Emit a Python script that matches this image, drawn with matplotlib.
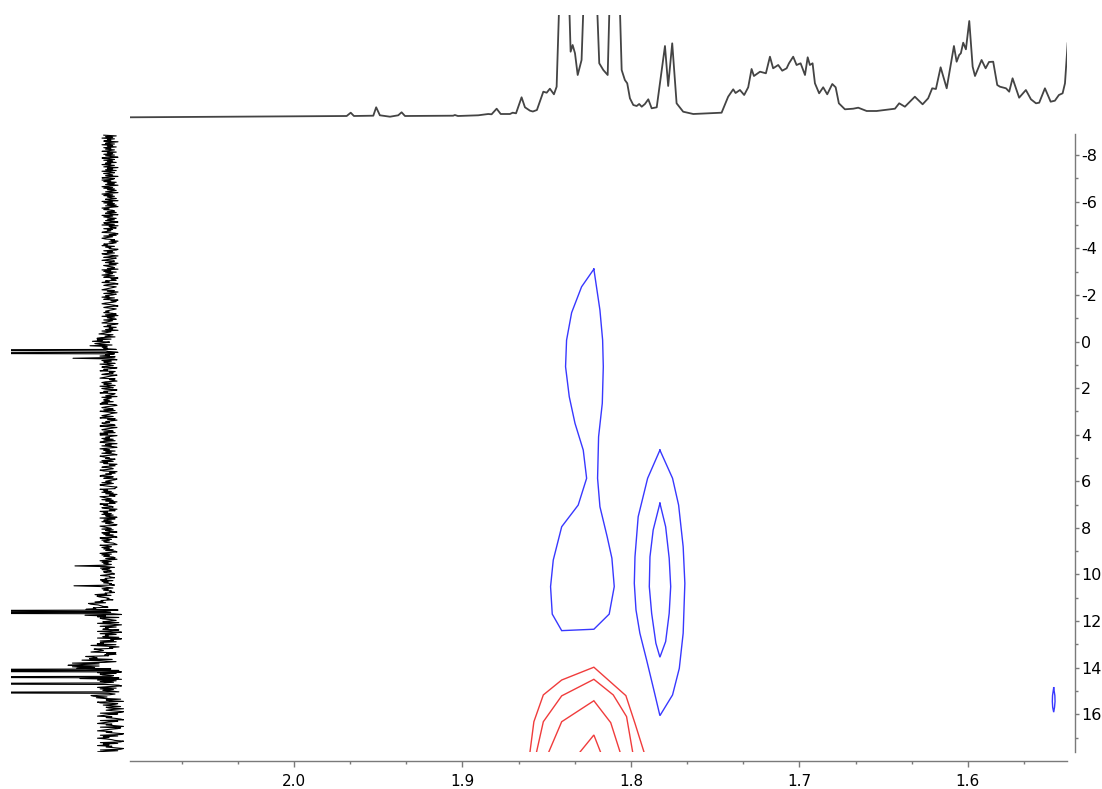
import numpy as np
import matplotlib
matplotlib.use("Agg")
import matplotlib.pyplot as plt
from matplotlib.ticker import MultipleLocator, FixedLocator

plt.rcParams['axes.unicode_minus'] = False
plt.rcParams['font.family'] = ['DejaVu Sans']

# ---------------------------------------------------------------- axes ranges
F2_LIMITS = (2.0973, 1.5412)      # 1H, ppm (reversed)
F1_LIMITS = (17.62, -8.91)        # 13C, ppm (reversed, downwards)
F2_MAJOR = [2.0, 1.9, 1.8, 1.7, 1.6]
F1_MAJOR = [-8, -6, -4, -2, 0, 2, 4, 6, 8, 10, 12, 14, 16]

# ---------------------------------------------------------------- 1H projection (top trace)
H_PPM = [2.0973, 1.9687, 1.9663, 1.9644, 1.9529, 1.9512, 1.9490, 1.9430, 1.9381,
         1.9361, 1.9341, 1.9055, 1.9045, 1.9027, 1.8906, 1.8847, 1.8827, 1.8797,
         1.8773, 1.8718, 1.8702, 1.8682, 1.8649, 1.8629, 1.8599, 1.8582, 1.8558,
         1.8520, 1.8500, 1.8481, 1.8457, 1.8441, 1.8395, 1.8358, 1.8346, 1.8332,
         1.8316, 1.8293, 1.8243, 1.8188, 1.8164, 1.8138, 1.8098, 1.8055, 1.8036,
         1.8022, 1.8006, 1.7986, 1.7966, 1.7951, 1.7936, 1.7917, 1.7897, 1.7877,
         1.7847, 1.7798, 1.7779, 1.7755, 1.7729, 1.7690, 1.7630, 1.7462, 1.7423,
         1.7393, 1.7379, 1.7353, 1.7328, 1.7304, 1.7284, 1.7270, 1.7234, 1.7199,
         1.7175, 1.7156, 1.7126, 1.7102, 1.7076, 1.7062, 1.7037, 1.7017, 1.6993,
         1.6967, 1.6951, 1.6938, 1.6922, 1.6908, 1.6883, 1.6859, 1.6835, 1.6805,
         1.6785, 1.6766, 1.6730, 1.6681, 1.6651, 1.6601, 1.6542, 1.6433, 1.6408,
         1.6374, 1.6315, 1.6269, 1.6236, 1.6212, 1.6190, 1.6162, 1.6126, 1.6083,
         1.6067, 1.6052, 1.6042, 1.6028, 1.6012, 1.5992, 1.5972, 1.5958, 1.5919,
         1.5895, 1.5875, 1.5850, 1.5826, 1.5810, 1.5774, 1.5755, 1.5735, 1.5696,
         1.5656, 1.5626, 1.5596, 1.5577, 1.5543, 1.5509, 1.5484, 1.5460, 1.5438,
         1.5424, 1.5408]
H_INT = [-0.3, 1.0, 4.3, 1.0, 1.3, 9.7, 1.7, 0.3, 1.7,
         4.7, 1.0, 1.3, 2.0, 1.0, 1.7, 3.0, 2.7, 8.3,
         3.0, 3.0, 4.3, 3.7, 19.7, 9.7, 6.3, 5.5, 7.0,
         25.3, 24.3, 28.3, 22.7, 30.3, 280.0, 65.3, 72.0, 63.7,
         42.0, 57.0, 300.0, 53.7, 47.0, 42.0, 300.0, 47.0, 37.0,
         33.7, 18.7, 12.0, 11.0, 13.0, 10.3, 13.0, 17.7, 8.7,
         9.7, 71.0, 31.0, 73.7, 13.7, 5.3, 3.0, 4.3, 20.3,
         27.7, 24.0, 27.0, 22.0, 29.7, 48.0, 41.0, 45.3, 43.7,
         60.3, 48.7, 52.0, 46.3, 48.7, 53.7, 60.3, 52.0, 53.7,
         42.0, 59.7, 52.0, 53.7, 33.7, 23.7, 29.7, 22.7, 33.0,
         29.7, 13.7, 7.7, 8.3, 9.3, 6.0, 6.0, 8.3, 13.7,
         10.3, 20.3, 12.7, 18.7, 28.7, 28.0, 49.7, 28.7, 71.0,
         55.3, 62.0, 63.7, 74.3, 67.7, 96.0, 50.3, 41.0, 57.0,
         48.7, 55.0, 55.3, 32.0, 30.3, 28.7, 25.3, 38.7, 19.3,
         27.0, 17.7, 13.7, 14.3, 28.7, 15.3, 16.3, 22.0, 23.7,
         33.7, 73.7]

# ---------------------------------------------------------------- 13C projection (left trace)
C_NOISE = ("817392648057293618472591638274095283617492580637194285370692"
           "394816270593826147059382641750938261704958326174093851627408"
           "729054183647920518369724051386927450183629740581369247051863"
           "260948173592680431759206841357926048137592680413795206841357"
           "583170926418357902648153709246813507926481375092468137509264"
           "914620837519426803759142680357914206837519428603759124608357"
           "472859103684271950346827915036487219503684271959036482717950"
           "638205947163820597461382957041683259704163892570146382597401"
           "195738260419753826041957328604195738264091573826401975382640"
           "847261095384762109538472610593847216059384726150938427610593"
           "306591847230695184723065918742306591874320659187423056918742"
           "571940382657149038265719043826571940328657914032865719403826"
           "928374615092873461509283746105928374165029837416509823741650"
           "463018257946310825794630812579463018275964301827594630182795")
C_RANGE = (-8.86, 17.66)
C_BAND_EDGES = [-9.0, -0.45, -0.10, 0.25, 0.55, 0.80, 9.45, 10.85, 11.20, 11.50,
                11.70, 12.90, 13.40, 13.80, 14.05, 15.12, 15.35, 18.0]
C_BAND_CENTER = [0.0, 4.0, 9.0, 0.0, 1.5, 1.5, 2.5, 6.0, 13.0,
                 0.5, 0.5, 5.0, 11.0, 22.0, 0.5, 7.0, -0.5]
C_BAND_HALFWIDTH = [8.0, 9.0, 11.0, 8.0, 8.5, 8.5, 7.0, 9.0, 11.0,
                    11.0, 12.0, 14.0, 17.0, 20.0, 12.0, 12.0, 13.0]
C_PEAK_PPM = [0.36, 0.49, 0.71, 9.62, 10.49, 11.55, 11.65, 11.74,
              14.10, 14.16, 14.40, 14.48, 14.70, 15.08]
C_PEAK_INT = [300, 300, 37, 35, 36, 300, 300, 25,
              300, 300, 300, 30, 300, 300]

# ---------------------------------------------------------------- 2D contours (F2, F1)
BLUE_A_F2 = [1.8220, 1.8293, 1.8352, 1.8382, 1.8388, 1.8366, 1.8332, 1.8283, 1.8263,
             1.8313, 1.8411, 1.8461, 1.8477, 1.8467, 1.8411, 1.8220, 1.8129, 1.8099,
             1.8113, 1.8141, 1.8184, 1.8198, 1.8192, 1.8170, 1.8164, 1.8168, 1.8184,
             1.8220]
BLUE_A_F1 = [-3.11, -2.35, -1.24, -0.06, 1.08, 2.37, 3.51, 4.66, 5.87,
             7.02, 7.95, 9.38, 10.52, 11.70, 12.41, 12.35, 11.70, 10.52,
             9.30, 8.38, 7.09, 5.87, 4.09, 2.65, 1.08, -0.06, -1.35,
             -3.11]
BLUE_B_F2 = [1.7828, 1.7753, 1.7717, 1.7690, 1.7680, 1.7690, 1.7713, 1.7753, 1.7828,
             1.7864, 1.7907, 1.7947, 1.7970, 1.7980, 1.7976, 1.7957, 1.7901, 1.7828]
BLUE_B_F1 = [4.66, 5.87, 7.02, 8.81, 10.38, 12.52, 14.03, 15.17, 16.06,
             14.96, 13.67, 12.52, 11.52, 10.38, 9.24, 7.52, 5.87, 4.66]
BLUE_C_F2 = [1.7828, 1.7794, 1.7773, 1.7764, 1.7773, 1.7794, 1.7828,
             1.7852, 1.7877, 1.7891, 1.7887, 1.7868, 1.7828]
BLUE_C_F1 = [6.94, 7.95, 9.30, 10.52, 11.67, 12.88, 13.55,
             12.95, 11.67, 10.52, 9.24, 8.09, 6.94]
BLUE_D_F2 = [1.5491, 1.5484, 1.5483, 1.5486, 1.5491, 1.5497, 1.5499, 1.5498, 1.5491]
BLUE_D_F1 = [14.86, 15.20, 15.45, 15.70, 15.91, 15.70, 15.45, 15.20, 14.86]

RED_A_F2 = [1.8606, 1.8576, 1.8520, 1.8411, 1.8220, 1.8030, 1.7976, 1.7923, 1.7920]
RED_A_F1 = [18.00, 16.32, 15.17, 14.53, 13.98, 15.20, 16.39, 17.61, 18.00]
RED_B_F2 = [1.8572, 1.8520, 1.8411, 1.8220, 1.8105, 1.8026, 1.7990, 1.7988]
RED_B_F1 = [18.00, 16.32, 15.21, 14.50, 15.17, 16.10, 17.61, 18.00]
RED_C_F2 = [1.8510, 1.8411, 1.8220, 1.8120, 1.8065, 1.8060]
RED_C_F1 = [18.00, 16.32, 15.42, 16.36, 17.61, 18.00]
RED_D_F2 = [1.8345, 1.8220, 1.8160]
RED_D_F1 = [18.00, 16.89, 18.00]

BLUE_CONTOURS = [(BLUE_A_F2, BLUE_A_F1), (BLUE_B_F2, BLUE_B_F1),
                 (BLUE_C_F2, BLUE_C_F1), (BLUE_D_F2, BLUE_D_F1)]
RED_CONTOURS = [(RED_A_F2, RED_A_F1), (RED_B_F2, RED_B_F1),
                (RED_C_F2, RED_C_F1), (RED_D_F2, RED_D_F1)]

# ---------------------------------------------------------------- figure layout
W, H = 1102, 789
fig = plt.figure(figsize=(W / 100, H / 100), dpi=100)


def px_rect(x0, y0, x1, y1):
    return [x0 / W, 1 - y1 / H, (x1 - x0) / W, (y1 - y0) / H]


ax = fig.add_axes(px_rect(130, 134, 1067, 752))
ax_top = fig.add_axes(px_rect(130, 15, 1067, 119))
ax_left = fig.add_axes(px_rect(11, 134, 125, 752))

AXIS_GREY = '#7a7a7a'

# main 2D panel
for f2, f1 in BLUE_CONTOURS:
    ax.plot(f2, f1, color='#3838ff', lw=1.0, solid_joinstyle='miter')
for f2, f1 in RED_CONTOURS:
    ax.plot(f2, f1, color='#f03c3c', lw=1.0, solid_joinstyle='miter')

ax.set_xlim(*F2_LIMITS)
ax.set_ylim(*F1_LIMITS)
for side in ('top', 'left'):
    ax.spines[side].set_visible(False)
for side in ('bottom', 'right'):
    ax.spines[side].set_color(AXIS_GREY)
    ax.spines[side].set_linewidth(1.0)
ax.spines['bottom'].set_position(('outward', 6.3))
ax.spines['right'].set_position(('outward', 6.0))

ax.xaxis.set_major_locator(FixedLocator(F2_MAJOR))
ax.xaxis.set_minor_locator(MultipleLocator(0.1 / 3))
ax.xaxis.set_major_formatter(plt.FuncFormatter(lambda v, p: f"{v:.1f}"))
ax.yaxis.set_major_locator(FixedLocator(F1_MAJOR))
ax.yaxis.set_minor_locator(MultipleLocator(1))
ax.yaxis.tick_right()
ax.tick_params(axis='x', which='major', direction='out', length=4.3, width=1,
               color=AXIS_GREY, labelsize=11, pad=5.5)
ax.tick_params(axis='x', which='minor', direction='out', length=2.4, width=1,
               color=AXIS_GREY)
ax.tick_params(axis='y', which='major', direction='out', length=3.2, width=1,
               color=AXIS_GREY, labelsize=11.5, pad=1.0)
ax.tick_params(axis='y', which='minor', direction='out', length=2.3, width=1,
               color=AXIS_GREY)

# 1H projection
ax_top.plot(H_PPM, H_INT, color='#444444', lw=1.3, solid_joinstyle='round')
ax_top.set_xlim(*F2_LIMITS)
ax_top.set_ylim(-2, 102)
ax_top.axis('off')

# 13C projection
n = len(C_NOISE)
c_ppm = np.linspace(C_RANGE[0], C_RANGE[1], n)
digits = np.array([int(ch) for ch in C_NOISE], dtype=float)
band = np.clip(np.searchsorted(C_BAND_EDGES, c_ppm, side='right') - 1,
               0, len(C_BAND_CENTER) - 1)
c_int = (np.array(C_BAND_CENTER)[band]
         + (digits - 4.5) / 4.5 * np.array(C_BAND_HALFWIDTH)[band])
for p, h in zip(C_PEAK_PPM, C_PEAK_INT):
    c_int[np.abs(c_ppm - p).argmin()] = h
ax_left.plot(c_int, c_ppm, color='black', lw=0.8)
ax_left.set_xlim(99, -15)
ax_left.set_ylim(*F1_LIMITS)
ax_left.axis('off')

fig.savefig('out.png', dpi=100)
